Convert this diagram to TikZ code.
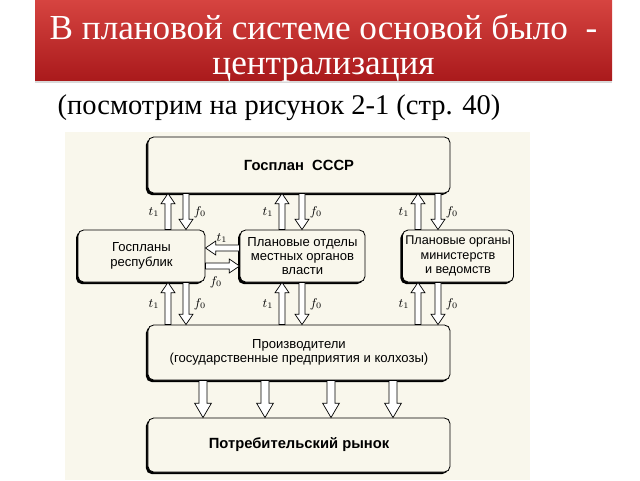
\documentclass[tikz,border=0pt]{standalone}
\usepackage{fontspec}
\setmainfont{Liberation Serif}
\newfontfamily\shema{Liberation Sans}
\usetikzlibrary{calc,shadows}
\definecolor{krasnyj1}{RGB}{214,68,64}
\definecolor{krasnyj2}{RGB}{170,26,28}
\definecolor{bumaga}{RGB}{249,247,236}
\tikzset{
	diagram/.style={x=0.25mm, y=-0.25mm, font=\shema\fontsize{9.3}{10.2}\selectfont},
	blok/.style={draw, line width=0.6pt, rounded corners=1.4mm, fill=bumaga, align=center, inner sep=2pt,
	             drop shadow={shadow xshift=-0.5mm, shadow yshift=-0.5mm, opacity=1, fill=black}},
	sirina/.store in=\sirina, glava/.store in=\glava, dlina/.store in=\dlina,
	sirina=0.75mm, glava=1.75mm, dlina=2.6mm,
	strela/.style={draw, line width=0.5pt, fill=white, to path={
	    ($(\tikztostart)!\sirina!90:(\tikztotarget)$)
	 -- ($($(\tikztotarget)!\dlina!(\tikztostart)$)!\sirina!90:(\tikztotarget)$)
	 -- ($($(\tikztotarget)!\dlina!(\tikztostart)$)!\glava!90:(\tikztotarget)$)
	 -- (\tikztotarget)
	 -- ($($(\tikztotarget)!\dlina!(\tikztostart)$)!\glava!-90:(\tikztotarget)$)
	 -- ($($(\tikztotarget)!\dlina!(\tikztostart)$)!\sirina!-90:(\tikztotarget)$)
	 -- ($(\tikztostart)!\sirina!-90:(\tikztotarget)$)
	 -- cycle}},
	oznaka/.style={font=\small, inner sep=1pt},
	naslov/.style={text=white, align=center, font=\rmfamily\fontsize{25}{25}\selectfont},
}

\begin{document}
\begin{tikzpicture}[diagram]
\useasboundingbox (0,0) rectangle (640,480);

% ---------- zagolovok ----------
\shade[top color=krasnyj1, bottom color=krasnyj2,
       drop shadow={shadow xshift=0mm, shadow yshift=-0.7mm, opacity=0.3}] (35,0) rectangle (612,80);
\node[naslov] (zagolovok) at (323.5,48) {В плановой системе основой было\ \ -\\централизация};
\node[font=\rmfamily\fontsize{20.3}{22}\selectfont] (podpis) at (279,108)
    {(посмотрим на рисунок 2-1 (стр. 40)};

% ---------- skan ----------
\fill[bumaga] (65,132) rectangle (530,480);

% ---------- bloki ----------
\node[blok, minimum width=75.5mm, minimum height=14mm, font=\shema\bfseries\fontsize{10.5}{12}\selectfont]
    (gosplan) at (299,165) {Госплан\ \ СССР};
\node[blok, minimum width=31.75mm, minimum height=13mm] (resp) at (141.5,256) {Госпланы\\республик};
\node[blok, minimum width=31.25mm, minimum height=13mm] (mestn) at (302.5,256)
    {Плановые отделы\\местных органов\\власти};
\node[blok, minimum width=27.5mm, minimum height=13mm, font=\shema\fontsize{9}{10.2}\selectfont]
    (minist) at (458,256) {Плановые органы\\министерств\\и ведомств};
\node[blok, minimum width=75.5mm, minimum height=13.75mm] (proizv) at (299,352.5)
    {Производители\\(государственные предприятия и колхозы)};
\node[blok, minimum width=75.5mm, minimum height=13.5mm, font=\shema\bfseries\fontsize{10.5}{12}\selectfont]
    (rynok) at (299,445) {Потребительский рынок};

% ---------- strelki ----------
\foreach \a/\b/\uzel in {168/186/resp, 282/302/mestn, 418/438/minist} {
    \draw[strela] (\uzel.north -| \a,0) to (gosplan.south -| \a,0);
    \draw[strela] (gosplan.south -| \b,0) to (\uzel.north -| \b,0);
    \draw[strela] (proizv.north -| \a,0) to (\uzel.south -| \a,0);
    \draw[strela] (\uzel.south -| \b,0) to (proizv.north -| \b,0);
    \node[oznaka] at (\a-14,212) {$t_1$};
    \node[oznaka] at (\b+14,212) {$f_0$};
    \node[oznaka] at (\a-14,304) {$t_1$};
    \node[oznaka] at (\b+14,304) {$f_0$};
}

\draw[strela] (mestn.west |- 0,248) to (resp.east |- 0,248);
\draw[strela] (resp.east |- 0,266) to (mestn.west |- 0,266);
\node[oznaka] at (222,238) {$t_1$};
\node[oznaka] at (216,282) {$f_0$};

\foreach \x in {203,265,331,393}
    \draw[strela, sirina=1mm, glava=2.1mm, dlina=3.6mm] (proizv.south -| \x,0) to (rynok.north -| \x,0);

\end{tikzpicture}
\end{document}
